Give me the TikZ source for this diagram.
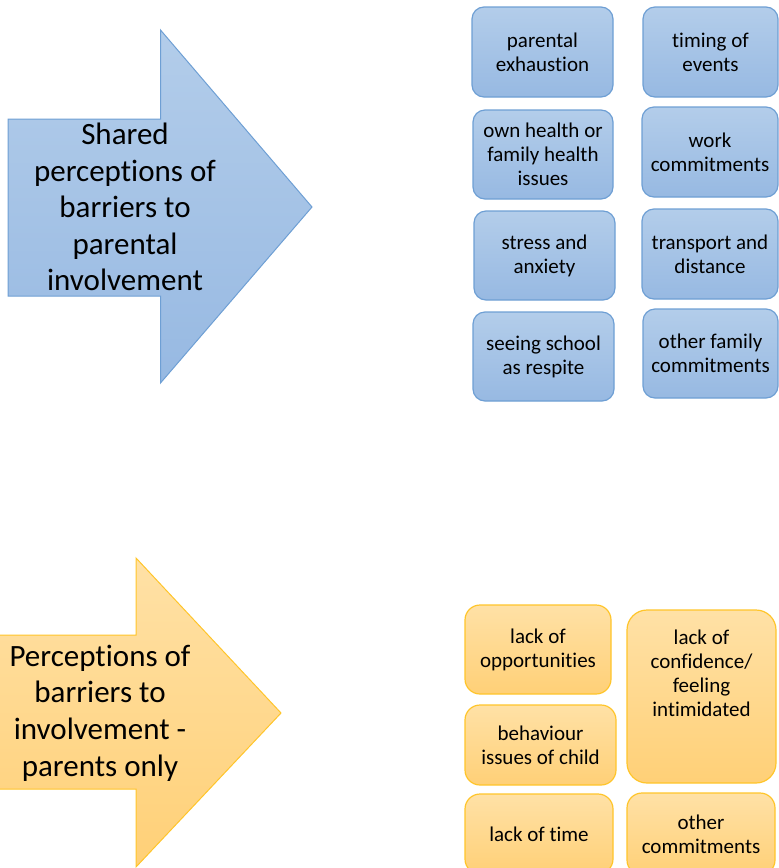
\documentclass[tikz,border=0pt]{standalone}
\usepackage{fontspec}
\setmainfont{Carlito}[Ligatures={NoCommon}]
\definecolor{btop}{HTML}{B3CDEA}
\definecolor{bbot}{HTML}{97B9E2}
\definecolor{bline}{HTML}{6E9FD4}
\definecolor{ytop}{HTML}{FFE1A6}
\definecolor{ybot}{HTML}{FFD077}
\definecolor{yline}{HTML}{FFC52A}
\tikzset{
  boxfont/.style={font=\fontsize{21}{24}\selectfont},
  bluebox/.style={draw=bline, line width=1.2pt, rounded corners=12pt, top color=btop, bottom color=bbot, align=center, boxfont, inner sep=0pt},
  yellowbox/.style={draw=yline, line width=1.2pt, rounded corners=15pt, top color=ytop, bottom color=ybot, align=center, boxfont, inner sep=0pt},
  bigtext/.style={align=center, font=\fontsize{31}{36.6}\selectfont, inner sep=0pt},
  bluearrow/.style={draw=bline, line width=1pt, top color=btop, bottom color=bbot, line join=miter},
  yellowarrow/.style={draw=yline, line width=1pt, top color=ytop, bottom color=ybot, line join=miter}
}
\begin{document}
\begin{tikzpicture}[x=1pt,y=-1pt]
\useasboundingbox (0,0) rectangle (779,868);
% blue arrow
\path[bluearrow] (8,119) -- (160.5,119) -- (160.5,30) -- (312,207) -- (160.5,383) -- (160.5,296) -- (8,296) -- cycle;
\node[bigtext] (sharedtext) at (125,207) {Shared\\perceptions of\\barriers to\\parental\\involvement};
% yellow arrow
\path[yellowarrow] (-5,635) -- (136,635) -- (136,558) -- (281,713) -- (136,867) -- (136,789) -- (-5,789) -- cycle;
\node[bigtext] (parentstext) at (100,713) {Perceptions of\\barriers to\\involvement -\\parents only};
% blue boxes
\node[bluebox, minimum width=141pt, minimum height=90pt] (b1) at (542.5,52) {parental\\exhaustion};
\node[bluebox, minimum width=135pt, minimum height=90pt] (b2) at (710.5,52) {timing of\\events};
\node[bluebox, minimum width=140pt, minimum height=89pt] (b3) at (543,154.5) {own health or\\family health\\issues};
\node[bluebox, minimum width=136pt, minimum height=90pt] (b4) at (710,152) {work\\commitments};
\node[bluebox, minimum width=141pt, minimum height=89pt] (b5) at (544.5,255.5) {stress and\\anxiety};
\node[bluebox, minimum width=136pt, minimum height=90pt] (b6) at (710,254) {transport and\\distance};
\node[bluebox, minimum width=141pt, minimum height=89pt] (b7) at (543.5,356.5) {seeing school\\as respite};
\node[bluebox, minimum width=135pt, minimum height=89pt] (b8) at (710.5,353.5) {other family\\commitments};
% yellow boxes
\node[yellowbox, minimum width=146pt, minimum height=89pt] (y1) at (538,649.5) {lack of\\opportunities};
\node[yellowbox, minimum width=151pt, minimum height=80pt] (y2) at (540.5,745) {behaviour\\issues of child};
\node[yellowbox, rounded corners=20pt, minimum width=149pt, minimum height=173pt] (y3) at (701.5,696.5) {};
\node[boxfont, align=center, inner sep=0pt] (y3text) at (701.5,673) {lack of\\confidence/\\feeling\\intimidated};
\node[yellowbox, minimum width=148pt, minimum height=80pt] (y4) at (539,834) {lack of time};
\node[yellowbox, minimum width=148pt, minimum height=82pt] (y5) at (701,834) {other\\commitments};
\end{tikzpicture}
\end{document}
